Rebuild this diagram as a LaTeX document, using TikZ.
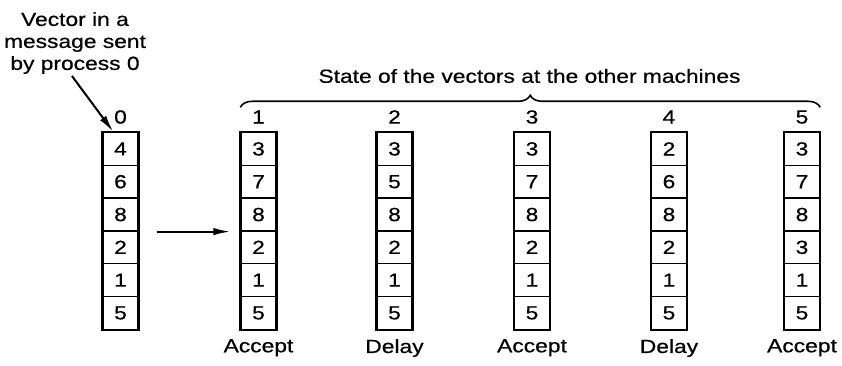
\documentclass[tikz,border=0pt]{standalone}
\usepackage{fontspec}
\setmainfont{Liberation Sans}[FakeStretch=1.2, FakeBold=0.6]
\usetikzlibrary{arrows.meta, positioning, calc, decorations.pathreplacing}

\begin{document}
\begin{tikzpicture}[
        x=1pt, y=-1pt,
        font=\fontsize{19}{22}\selectfont,
        cell/.style={
            rectangle,
            draw=black,
            line width=1.4pt,
            minimum width=35pt,
            minimum height=32.8pt,
            inner sep=0pt
        },
        frame/.style={
            draw=black,
            line width=2.2pt
        },
        lbl/.style={
            inner sep=0pt,
            anchor=center
        },
        arrow/.style={
            -{Latex[length=17pt, width=7.5pt]},
            line width=2pt
        },
        bracket/.style={
            decorate,
            decoration={brace, amplitude=12pt},
            line width=1.6pt
        }
    ]
    \useasboundingbox (0,0) rectangle (842,366);

    % Vectors
    \foreach \name/\x/\vals in {v0/120.5/{4,6,8,2,1,5}, v1/258.5/{3,7,8,2,1,5},
            v2/394.5/{3,5,8,2,1,5}, v3/532/{3,7,8,2,1,5},
            v4/669/{2,6,8,2,1,5}, v5/802/{3,7,8,3,1,5}} {
        \foreach \v [count=\i] in \vals {
            \node[cell] (\name-\i) at (\x, 132.5+\i*32.8-16.4) {\v};
        }
        \draw[frame] (\name-1.north west) rectangle (\name-6.south east);
    }

    % Column numbers
    \node[lbl] (n0) at (120.5,117) {0};
    \node[lbl] (n1) at (258.5,117) {1};
    \node[lbl] (n2) at (394.5,117) {2};
    \node[lbl] (n3) at (532,117) {3};
    \node[lbl] (n4) at (669,117) {4};
    \node[lbl] (n5) at (802,117) {5};

    % Outcomes
    \node[lbl, below=9pt of v1-6] (out1) {Accept};
    \node[lbl, below=9pt of v2-6] (out2) {Delay};
    \node[lbl, below=9pt of v3-6] (out3) {Accept};
    \node[lbl, below=9pt of v4-6] (out4) {Delay};
    \node[lbl, below=9pt of v5-6] (out5) {Accept};

    % Notes
    \node[lbl, align=center] (note) at (75,43) {Vector in a\\message sent\\by process 0};
    \node[lbl] (title) at (529.5,76) {State of the vectors at the other machines};

    % Brace
    \draw[bracket] ([yshift=24.5pt]v1-1.north west) -- ([yshift=24.5pt]v5-1.north east);

    % Arrows
    \draw[arrow] ([xshift=-3pt, yshift=-2pt]note.south) -- ([xshift=11pt]v0-1.north west);
    \draw[arrow] ([xshift=18pt]v0-3.south east) -- ([xshift=-10pt]v1-3.south west);

\end{tikzpicture}
\end{document}
